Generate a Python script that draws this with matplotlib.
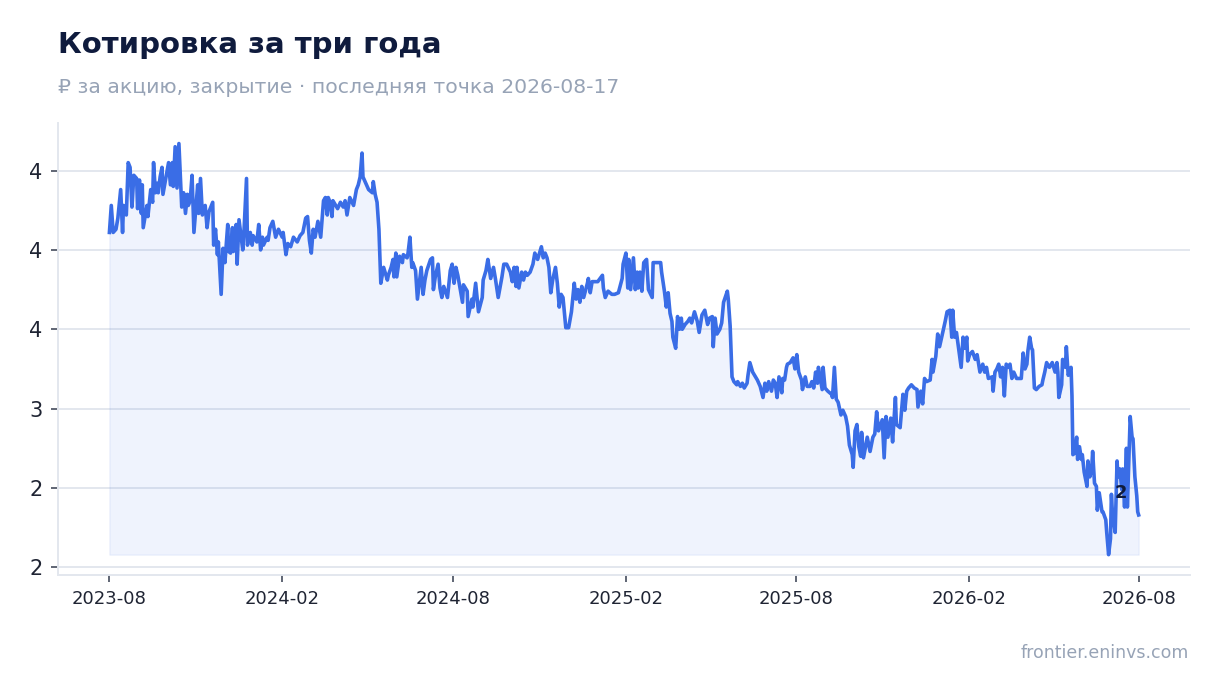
import matplotlib
matplotlib.use("Agg")
import matplotlib.pyplot as plt
import matplotlib.dates as mdates
from matplotlib.ticker import StrMethodFormatter
import pandas as pd

start_date = "2023-08-17"
day_offsets = [
    0, 2, 4, 7, 9, 12, 14, 15, 18, 20, 22, 24, 26, 29, 30, 32, 34, 35, 36, 40,
    41, 44, 46, 47, 49, 51, 52, 54, 56, 57, 60, 63, 65, 67, 68, 70, 72, 74, 77, 79,
    81, 83, 84, 86, 88, 90, 94, 95, 97, 99, 102, 104, 106, 110, 111, 113, 115, 116, 119, 121,
    123, 126, 127, 129, 131, 132, 135, 136, 138, 142, 143, 146, 147, 150, 152, 153, 157, 159, 161,
    163, 164, 168, 169, 171, 174, 177, 180, 184, 185, 188, 190, 193, 196, 200, 203, 206, 209, 211,
    213, 215, 217, 219, 222, 225, 228, 230, 232, 233, 235, 237, 238, 243, 246, 249, 251, 253, 256,
    260, 263, 265, 267, 269, 270, 273, 276, 280, 281, 283, 285, 287, 289,
    292, 296, 297, 300, 302, 303, 305, 306, 309, 312, 313, 317, 318, 320, 322, 323, 326, 328, 330,
    332, 334, 336, 338, 342, 344, 345, 347, 350, 352, 354, 356, 360, 363, 365, 367, 369, 371, 376,
    377, 381, 382, 386, 387, 390, 393, 397, 398, 401, 403, 406, 409, 411, 414, 418, 420, 423, 427,
    429, 431, 433, 434, 436, 439, 441, 443, 445, 448, 451, 453, 456, 460, 462, 464, 466, 468, 470,
    472, 475, 477, 479, 481, 483, 486,
    489, 492, 493, 495, 497, 499, 501, 503, 505, 509, 510, 512, 514, 517, 520, 525, 526, 528, 531,
    535, 538, 542, 546, 547, 550, 552, 553, 555, 558, 560, 562, 563, 565, 567, 569, 572, 574, 578,
    579, 581, 584, 587, 588, 591, 593, 595, 597, 599, 600, 603, 605, 607, 609, 610, 613, 616, 618,
    620, 623, 626, 628, 631, 634, 637, 639, 642, 643, 645, 647, 650, 652, 654, 658, 659, 661, 663,
    665, 668, 669, 672, 674, 676, 679, 680, 682,
    685, 690, 693, 696, 698, 700, 702, 705, 707, 709, 711, 713, 716, 717, 719, 721, 722, 725, 728,
    730, 732, 734, 737, 738, 741, 743, 746, 748, 750, 752, 754, 755, 759, 760, 762, 765, 769, 770,
    772, 774, 776, 779, 781, 784, 786, 788, 791, 792, 794, 796, 798, 800, 801, 803, 807, 808, 810,
    813, 815, 817, 819, 823, 825, 827, 829, 832, 834, 837, 838, 842, 845, 847, 849, 851, 854, 857,
    860, 861, 864, 866, 868, 870, 874, 876, 877, 880, 882,
    884, 887, 890, 892, 895, 897, 898, 900, 902, 904, 907, 909, 911, 913, 914, 916, 919, 922, 924,
    927, 930, 932, 934, 936, 940, 941, 943, 945, 947, 949, 951, 953, 955, 957, 959, 961, 963, 966,
    968, 971, 973, 975, 977, 978, 980, 982, 983, 985, 987, 990, 993, 994, 996, 998, 1001, 1004, 1007,
    1009, 1010, 1011, 1014, 1015, 1018, 1019, 1021, 1024, 1025, 1026,
    1028, 1030, 1031, 1033, 1035, 1036, 1038, 1041, 1042, 1044, 1046, 1047, 1049, 1051, 1052, 1054,
    1057, 1058, 1061, 1062, 1064, 1066, 1067, 1068, 1071, 1073, 1074, 1076, 1078, 1079, 1081, 1083,
    1084, 1087, 1089, 1090, 1092, 1094, 1095, 1096,
]
close_prices = [
    4.11, 4.28, 4.11, 4.13, 4.20, 4.38, 4.11, 4.28, 4.22, 4.55, 4.52, 4.27, 4.47, 4.45, 4.26, 4.44, 4.23, 4.41, 4.14, 4.28,
    4.21, 4.38, 4.30, 4.55, 4.36, 4.42, 4.36, 4.46, 4.52, 4.35, 4.45, 4.55, 4.41, 4.55, 4.40, 4.65, 4.39, 4.67, 4.27, 4.36,
    4.23, 4.35, 4.28, 4.31, 4.47, 4.11, 4.41, 4.23, 4.45, 4.22, 4.28, 4.14, 4.24, 4.30, 4.03, 4.13, 3.97, 4.05, 3.72, 4.01,
    3.92, 4.16, 3.99, 3.98, 4.14, 3.99, 4.16, 3.91, 4.19, 4.00, 4.08, 4.45, 4.03, 4.11, 4.03, 4.09, 4.05, 4.16, 4.00,
    4.08, 4.03, 4.08, 4.06, 4.14, 4.18, 4.08, 4.13, 4.08, 4.11, 3.97, 4.04, 4.02, 4.08, 4.05, 4.09, 4.11, 4.20, 4.21,
    4.06, 3.98, 4.13, 4.08, 4.18, 4.08, 4.31, 4.33, 4.22, 4.33, 4.30, 4.21, 4.31, 4.26, 4.30, 4.27, 4.31, 4.22, 4.33,
    4.28, 4.38, 4.41, 4.46, 4.61, 4.46, 4.42, 4.38, 4.36, 4.43, 4.35, 4.30, 4.13, 3.79,
    3.89, 3.81, 3.84, 3.89, 3.94, 3.83, 3.98, 3.83, 3.96, 3.92, 3.97, 3.95, 3.98, 4.08, 3.89, 3.92, 3.87, 3.69, 3.79,
    3.89, 3.72, 3.81, 3.87, 3.94, 3.95, 3.75, 3.83, 3.91, 3.76, 3.70, 3.77, 3.70, 3.87, 3.91, 3.79, 3.89, 3.84, 3.67,
    3.78, 3.74, 3.58, 3.69, 3.64, 3.79, 3.61, 3.70, 3.81, 3.87, 3.94, 3.82, 3.89, 3.82, 3.70, 3.83, 3.91, 3.91, 3.86,
    3.80, 3.89, 3.77, 3.89, 3.76, 3.86, 3.81, 3.86, 3.84, 3.86, 3.91, 3.98, 3.94, 4.02, 3.95, 3.98, 3.95, 3.89, 3.73,
    3.81, 3.89, 3.79, 3.64, 3.72, 3.70, 3.51,
    3.51, 3.61, 3.67, 3.79, 3.69, 3.75, 3.67, 3.77, 3.70, 3.79, 3.82, 3.73, 3.80, 3.80, 3.80, 3.84, 3.76, 3.70, 3.74,
    3.72, 3.72, 3.73, 3.82, 3.91, 3.98, 3.76, 3.94, 3.75, 3.95, 3.75, 3.86, 3.76, 3.86, 3.74, 3.92, 3.94, 3.75, 3.70,
    3.92, 3.92, 3.92, 3.92, 3.86, 3.74, 3.64, 3.73, 3.60, 3.55, 3.45, 3.38, 3.58, 3.50, 3.57, 3.50, 3.53, 3.55, 3.57,
    3.54, 3.61, 3.55, 3.48, 3.59, 3.62, 3.53, 3.57, 3.58, 3.39, 3.57, 3.47, 3.50, 3.54, 3.67, 3.74, 3.69, 3.52, 3.20,
    3.17, 3.15, 3.17, 3.14, 3.16, 3.13, 3.16, 3.21, 3.29,
    3.23, 3.18, 3.14, 3.07, 3.16, 3.11, 3.17, 3.11, 3.18, 3.16, 3.07, 3.20, 3.10, 3.19, 3.18, 3.26, 3.28, 3.29, 3.32,
    3.25, 3.34, 3.23, 3.18, 3.12, 3.20, 3.14, 3.14, 3.17, 3.13, 3.23, 3.16, 3.26, 3.12, 3.26, 3.13, 3.11, 3.09, 3.07,
    3.26, 3.06, 3.04, 2.96, 2.99, 2.95, 2.89, 2.77, 2.71, 2.63, 2.86, 2.90, 2.76, 2.70, 2.85, 2.69, 2.82, 2.79, 2.73,
    2.82, 2.84, 2.98, 2.86, 2.93, 2.69, 2.95, 2.82, 2.94, 2.79, 3.07, 2.90, 2.88, 3.09, 2.99, 3.11, 3.13, 3.15, 3.13,
    3.12, 3.01, 3.11, 3.03, 3.19, 3.17, 3.18, 3.31, 3.23, 3.33, 3.47,
    3.39, 3.47, 3.55, 3.61, 3.62, 3.45, 3.62, 3.45, 3.48, 3.39, 3.26, 3.45, 3.38, 3.45, 3.30, 3.34, 3.36, 3.31, 3.34,
    3.23, 3.28, 3.23, 3.26, 3.19, 3.20, 3.11, 3.23, 3.25, 3.28, 3.20, 3.26, 3.08, 3.28, 3.26, 3.28, 3.19, 3.23, 3.19,
    3.19, 3.19, 3.35, 3.25, 3.28, 3.36, 3.45, 3.38, 3.37, 3.13, 3.12, 3.14, 3.15, 3.18, 3.23, 3.29, 3.26, 3.29, 3.23,
    3.29, 3.23, 3.07, 3.15, 3.31, 3.26, 3.39, 3.21, 3.26, 3.08, 2.71,
    2.72, 2.82, 2.68, 2.76, 2.68, 2.71, 2.60, 2.51, 2.67, 2.57, 2.62, 2.73, 2.53, 2.51, 2.36, 2.47,
    2.35, 2.35, 2.30, 2.22, 2.08, 2.18, 2.46, 2.35, 2.22, 2.67, 2.57, 2.62, 2.49, 2.62, 2.38, 2.75,
    2.38, 2.95, 2.82, 2.81, 2.57, 2.45, 2.35, 2.33,
]
y_ticks = [2.0, 2.5, 3.0, 3.5, 4.0, 4.5]

title_text = "Котировка за три года"
subtitle_text = "₽ за акцию, закрытие · последняя точка 2026-08-17"
source_text = "frontier.eninvs.com"

BLUE = "#3a6de6"
GRID = "#e3e7ee"
TEXT_DARK = "#0f1b3d"
MUTED = "#97a3b6"

dates = pd.Timestamp(start_date) + pd.to_timedelta(day_offsets, unit="D")
series = pd.Series(close_prices, index=dates)

fig = plt.figure(figsize=(12.2, 6.93), dpi=100)
ax = fig.add_axes([0.0475, 0.170, 0.928, 0.6525])

base = series.min()
ax.fill_between(series.index, series.values, base, color=BLUE, alpha=0.08, linewidth=1)
ax.plot(series.index, series.values, color=BLUE, linewidth=2.6, solid_joinstyle="round")

ax.set_yticks(y_ticks)
ax.yaxis.set_major_formatter(StrMethodFormatter("{x:.0f}"))
ax.xaxis.set_major_locator(mdates.MonthLocator(bymonth=(2, 8), bymonthday=17))
ax.xaxis.set_major_formatter(mdates.DateFormatter("%Y-%m"))
ax.margins(x=0.05, y=0.05)

ax.grid(axis="y", color=GRID, linewidth=1.4)
ax.grid(axis="x", visible=False)
ax.set_axisbelow(True)
for s in ("top", "right"):
    ax.spines[s].set_visible(False)
for s in ("left", "bottom"):
    ax.spines[s].set_color(GRID)
    ax.spines[s].set_linewidth(1.4)
ax.tick_params(axis="y", labelsize=15, colors="#444c5c", labelcolor="#1f2433", length=5, width=1.2, pad=6)
ax.tick_params(axis="x", labelsize=13, colors="#444c5c", labelcolor="#1f2433", length=5, width=1.2, pad=6)

last_x = series.index[-1]
last_y = series.values[-1]
ax.annotate(f"{last_y:.0f}", xy=(last_x, last_y), xytext=(-13, 16), textcoords="offset points",
            ha="center", va="center", fontsize=13, fontweight="bold", color=TEXT_DARK)

fig.text(58 / 1220, 1 - 53 / 693, title_text, fontsize=21, fontweight="bold", color=TEXT_DARK,
         ha="left", va="baseline")
fig.text(58 / 1220, 1 - 93 / 693, subtitle_text, fontsize=14.7, color=MUTED, ha="left", va="baseline",
         family=["DejaVu Sans", "Noto Sans"])
fig.text(1189 / 1220, 1 - 658 / 693, source_text, fontsize=12.5, color=MUTED, ha="right", va="baseline")

fig.savefig("out.png", dpi=100)
